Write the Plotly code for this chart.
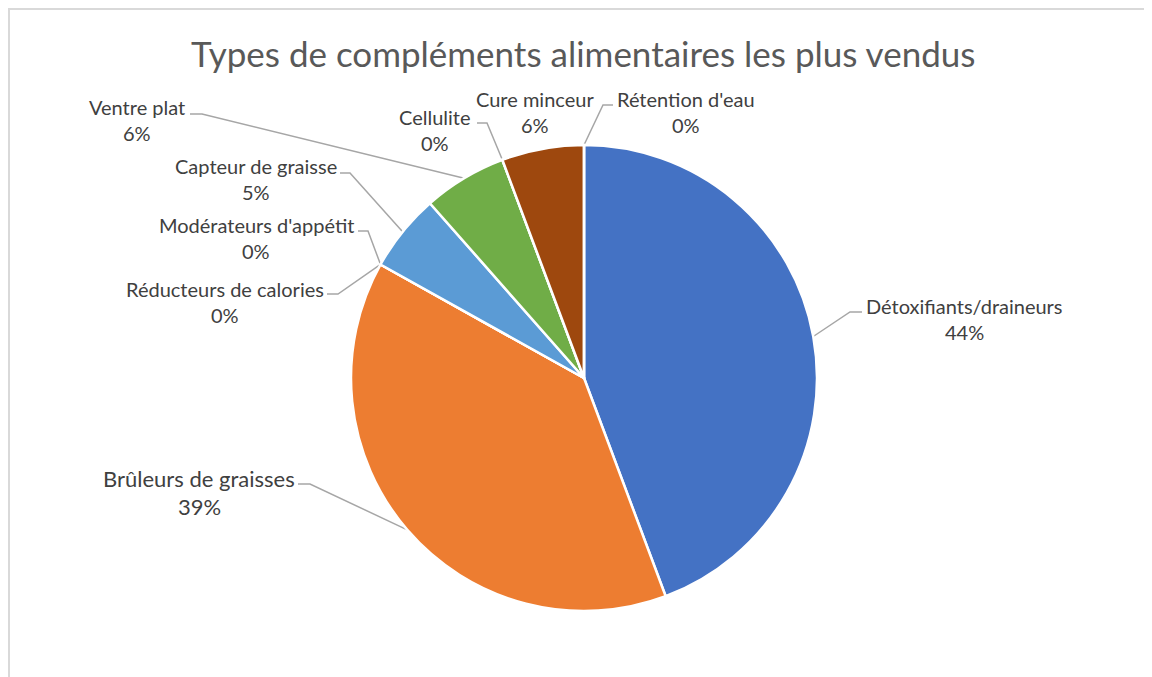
import plotly.graph_objects as go
import math

# données du graphique (parts en %)
categories = ["Détoxifiants/draineurs", "Brûleurs de graisses", "Réducteurs de calories",
              "Modérateurs d'appétit", "Capteur de graisse", "Ventre plat", "Cellulite",
              "Cure minceur", "Rétention d'eau"]
values = [44.3, 38.8, 0, 0, 5.4, 5.8, 0, 5.7, 0]
colors = ["#4472C4", "#ED7D31", "#A5A5A5", "#FFC000", "#5B9BD5",
          "#70AD47", "#264478", "#9E480E", "#636363"]
title = "Types de compléments alimentaires les plus vendus"

# la page ajoute une marge de 8 px autour de la figure
OFF = 8
W, H = 1152 - OFF, 677 - OFF
cx, cy, r = 584, 378, 233
font = "Lato"

# placement des étiquettes : centre du texte, segment horizontal (x0, x1, y), taille
label_pos = {
    "Détoxifiants/draineurs": (964, 319, (862, 850, 312), 20),
    "Brûleurs de graisses": (199, 492, (298, 310, 484), 22),
    "Réducteurs de calories": (225, 302, (327, 338, 294), 20),
    "Modérateurs d'appétit": (256, 238, (358, 368, 231), 20),
    "Capteur de graisse": (256, 179, (340, 350, 173), 20),
    "Ventre plat": (137, 120, (190, 202, 114), 20),
    "Cellulite": (435, 130, (477, 487, 123), 20),
    "Cure minceur": (535, 112, None, 20),
    "Rétention d'eau": (686, 112, (613, 603, 105), 20),
}

total = sum(values)
fig = go.Figure()
fig.add_trace(go.Pie(
    labels=categories, values=values, sort=False, direction="clockwise", rotation=0,
    marker=dict(colors=colors, line=dict(color="white", width=2.5)),
    textinfo="none", hoverinfo="label+percent", showlegend=False,
    domain=dict(x=[(cx - r - OFF) / W, (cx + r - OFF) / W],
                y=[1 - (cy + r - OFF) / H, 1 - (cy - r - OFF) / H]),
))

annotations = []
cum = 0
for cat, v in zip(categories, values):
    theta = 2 * math.pi * (cum + v / 2) / total
    cum += v
    ex, ey = cx + r * math.sin(theta), cy - r * math.cos(theta)
    tx, ty, seg, fs = label_pos[cat]
    gap = 13 if fs < 21 else 14
    annotations.append(dict(x=tx, y=ty - gap, text=cat, showarrow=False,
                            font=dict(family=font, size=fs, color="#404040")))
    annotations.append(dict(x=tx, y=ty + gap, text=f"{v / total:.0%}", showarrow=False,
                            font=dict(family=font, size=fs, color="#404040")))
    if seg:
        x0, x1, y = seg
        fig.add_trace(go.Scatter(x=[x0, x1, ex], y=[y, y, ey], mode="lines",
                                 line=dict(color="#A6A6A6", width=1.5),
                                 hoverinfo="skip", showlegend=False))

annotations.append(dict(x=583, y=53, text=title, showarrow=False,
                        font=dict(family=font, size=35, color="#595959")))

fig.update_layout(
    width=W, height=H, margin=dict(l=0, r=0, t=0, b=0),
    paper_bgcolor="white", plot_bgcolor="rgba(0,0,0,0)",
    xaxis=dict(range=[OFF, OFF + W], visible=False, fixedrange=True),
    yaxis=dict(range=[OFF + H, OFF], visible=False, fixedrange=True),
    annotations=annotations,
    shapes=[dict(type="rect", x0=9, y0=9, x1=W + 40, y1=H + 40,
                 line=dict(color="#D9D9D9", width=2), layer="below")],
)
fig.write_html("out.html")
